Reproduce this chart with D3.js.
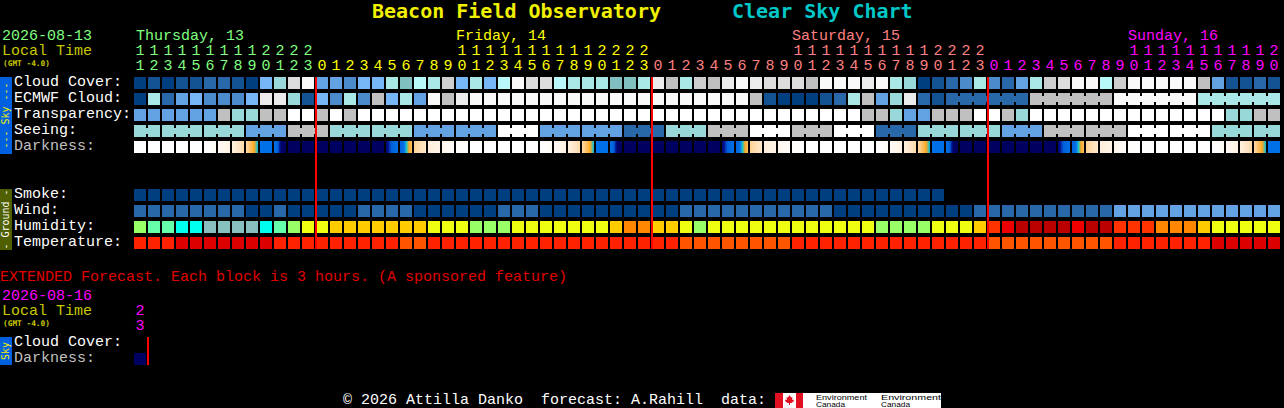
<!DOCTYPE html>
<html>
<head>
<meta charset="utf-8">
<title>Clear Sky Chart</title>
<script src="https://cdn.jsdelivr.net/npm/d3@7"></script>
<style>
	html, body { margin: 0; padding: 0; background: #000; overflow: hidden; }
	svg { display: block; }
	text { font-family: "Liberation Mono", monospace; font-size: 15px; white-space: pre; }
	.bold { font-family: "DejaVu Sans Mono", monospace; font-weight: bold; }
</style>
</head>
<body>
<svg id="chart" width="1284" height="408"></svg>
<script>
var siteName = "Beacon Field Observatory",
	chartName = "Clear Sky Chart";

var hourLabels = [11,12,13,14,15,16,17,18,19,20,21,22,23,
	0,1,2,3,4,5,6,7,8,9,10,11,12,13,14,15,16,17,18,19,20,21,22,23,
	0,1,2,3,4,5,6,7,8,9,10,11,12,13,14,15,16,17,18,19,20,21,22,23,
	0,1,2,3,4,5,6,7,8,9,10,11,12,13,14,15,16,17,18,19,20];

var dayNames = ["Thursday, 13", "Friday, 14", "Saturday, 15", "Sunday, 16"],
	dayLabelAt = [0, 23, 47, 71],
	dayStarts = [0, 13, 37, 61];

var skyRows = ["Cloud Cover:", "ECMWF Cloud:", "Transparency:", "Seeing:", "Darkness:"],
	groundRows = ["Smoke:", "Wind:", "Humidity:", "Temperature:"];

// levels index into skyColours
var cloudCover = [0,1,0,1,1,2,2,1,0,5,8,12,14,4,4,3,5,5,7,9,6,
	7,11,5,7,5,6,14,12,12,6,7,7,7,9,9,7,13,10,7,11,10,13,14,13,12,12,12,10,14,14,14,
	13,14,7,8,0,1,2,3,7,3,2,4,7,11,12,14,14,6,11,14,14,14,14,14,10,4,1,1,2,1];
var ecmwfCloud = [0,7,2,4,5,3,3,3,5,13,13,8,1,5,3,7,3,10,5,7,4,
	14,10,13,14,14,14,14,14,14,14,14,14,14,14,14,14,14,14,14,14,14,14,14,10,1,0,0,0,1,2,7,
	10,4,8,13,2,1,2,2,2,2,2,2,10,10,10,10,10,10,14,14,14,14,14,14,7,7,7,7,7,7];
var transparency = [4,4,4,4,4,4,10,8,8,10,10,15,15,10,15,10,15,15,15,15,15,
	15,15,15,15,15,15,15,15,15,15,15,15,15,15,15,15,15,15,15,15,15,15,15,15,15,15,15,15,15,15,15,
	10,10,8,4,4,10,10,10,15,15,10,8,15,15,15,15,15,15,15,15,15,15,15,15,15,15,8,8,10,10];
var seeing = [8,8,8,8,8,8,8,8,4,4,4,10,10,10,8,8,8,8,8,8,4,
	4,4,4,4,4,15,15,15,4,4,4,4,4,4,2,2,2,8,8,8,10,10,10,15,15,15,10,10,10,15,15,
	15,2,2,2,8,8,8,8,8,8,4,4,4,10,10,10,10,10,10,15,15,15,15,15,15,8,8,8,8,8];
var smoke = [0,0,0,0,0,0,0,0,0,0,0,0,0,0,0,0,0,0,0,0,0,
	0,0,0,0,0,0,0,0,0,0,0,0,0,0,0,0,0,0,0,0,0,0,0,0,0,0,0,0,0,0,0,
	0,0,0,0,0,0];
var wind = [2,2,2,2,2,2,2,2,0,0,2,0,0,0,0,0,2,2,2,2,0,
	0,0,0,0,0,2,2,2,0,0,0,0,0,0,0,0,0,0,2,2,2,2,2,2,2,2,2,2,2,0,0,
	0,0,0,0,0,0,0,0,2,2,2,2,2,2,2,2,2,2,4,4,4,4,4,4,4,4,4,4,4,4];
var humidity = [0,1,1,2,2,3,3,3,3,2,1,0,4,4,5,5,5,5,5,5,5,
	4,4,4,0,0,0,4,4,4,4,4,4,4,5,6,6,5,5,4,0,4,4,4,4,4,4,4,4,4,4,4,
	4,0,0,0,0,4,4,4,5,7,8,9,9,9,9,8,9,9,7,7,7,6,6,6,5,4,4,4,4,4];
var temperature = [1,1,1,0,0,0,0,0,0,0,1,1,1,1,1,1,1,1,1,2,2,
	1,1,1,1,1,1,1,1,1,1,1,1,1,1,1,1,1,1,2,2,2,2,2,2,2,2,1,1,1,1,1,
	1,1,1,1,1,1,1,1,1,2,2,2,2,2,2,2,2,2,1,1,1,1,1,1,1,0,0,0,0,0];

// darkness level at left and right edge of each block, 0 daylight .. 6 full dark
var darkLeft = [0,0,0,0,0,0,.3,.9,1.7,4,4,6,6,6,6,6,6,6,5.8,4.8,1.9,1,.5,.1,
	0,0,0,0,0,0,.3,.9,1.7,4,4,6,6,6,6,6,6,6,5.8,4.8,1.9,1,.5,.1,
	0,0,0,0,0,0,.3,.9,1.7,4,4,6,6,6,6,6,6,6,5.8,4.8,1.9,1,.5,.1,
	0,0,0,0,0,0,.3,.9,1.7,4];
var darkRight = [0,0,0,0,0,.25,.7,1.6,3.6,4,7,6,6,6,6,6,6,6,4,2.4,1.2,.6,.2,0,
	0,0,0,0,0,.25,.7,1.6,3.6,4,7,6,6,6,6,6,6,6,4,2.4,1.2,.6,.2,0,
	0,0,0,0,0,.25,.7,1.6,3.6,4,7,6,6,6,6,6,6,6,4,2.4,1.2,.6,.2,0,
	0,0,0,0,0,.25,.7,1.6,3.6,4];

// blocks drawn joined together [first, last]
var seeingBlocks = [[0,1],[2,4],[5,7],[8,10],[11,13],[14,16],[17,19],[20,22],[23,25],[26,28],
	[29,31],[32,34],[35,37],[38,40],[41,43],[44,46],[47,49],[50,52],[53,55],[56,58],[59,61],
	[62,64],[65,67],[68,70],[71,73],[74,76],[77,79],[80,81]];
var ecmwfBlocks = [[58,63],[64,69],[70,75],[76,81]];

var midnights = [13, 37, 61];

var extendedNote = "EXTENDED Forecast. Each block is 3 hours. (A sponsored feature)",
	extendedDate = "2026-08-16",
	extendedHours = [23],
	extendedRows = ["Cloud Cover:", "Darkness:"],
	extendedDark = [6];

var credit = "\u00a9 2026 Attilla Danko  forecast: A.Rahill  data:";

var skyColours = ["#003f7f","#135393","#2868a8","#4b8bcb","#62a2e2","#76b6f6","#b8f8f8","#aae8e8",
	"#98d8d8","#80c0c0","#c0c0c0","#cdcdcd","#dcdcdc","#ebebeb","#f9f9f9","#ffffff"];
var humidityColours = ["#99ff66","#66ffaa","#00ffee","#88c0c0","#eeff11","#ffcc00","#ff8800","#ff3300","#ee0000","#bb0000"];
var tempColours = ["#dd0000","#ff2200","#ff5500"];
var dayColours = ["#80ff80","#ffff00","#ff8080","#ff00ff"];

var svg = d3.select("#chart");

var x = d3.scaleBand()
	.domain(d3.range(hourLabels.length))
	.range([133, 1281])
	.paddingInner(1/7)
	.paddingOuter(1/14);
var cell = x.bandwidth();

var skyY = d3.scalePoint().domain(skyRows).range([77, 141]),
	groundY = d3.scalePoint().domain(groundRows).range([189, 237]),
	extendedY = d3.scalePoint().domain(extendedRows).range([337, 353]);

var skyScale = d3.scaleOrdinal().domain(d3.range(skyColours.length)).range(skyColours),
	humidityScale = d3.scaleOrdinal().domain(d3.range(humidityColours.length)).range(humidityColours),
	tempScale = d3.scaleOrdinal().domain(d3.range(tempColours.length)).range(tempColours);

var darkScale = d3.scaleLinear()
	.domain([0, 1, 2, 3, 3.5, 4, 5, 5.5, 6])
	.range(["#ffffff","#ffeeda","#ffcf90","#ffa820","#20c0c8","#0070e8","#0060d8","#001090","#000060"])
	.clamp(true);

function dayOf(i){
	return d3.bisectRight(dayStarts, i) - 1;
}

function label(g, txt, px, py, fill, cls){
	return g.append("text")
		.attr("x", px)
		.attr("y", py)
		.attr("fill", fill)
		.attr("class", cls || null)
		.text(txt);
}

function drawRow(g, values, y, colour, blocks){
	var row = g.append("g").attr("shape-rendering", "crispEdges");
	row.selectAll("rect.block")
		.data(values)
		.enter()
		.append("rect")
			.attr("class", "block")
			.attr("x", function(d, i) {return x(i);})
			.attr("y", y)
			.attr("width", cell)
			.attr("height", cell)
			.attr("fill", function(d) {return colour(d);});
	if(blocks === undefined)
		return;
	//little bridges between the hours of a block
	var links = [];
	blocks.forEach(function(b){
		d3.range(b[0], b[1]).forEach(function(i) {links.push(i);});
	});
	row.selectAll("rect.link")
		.data(links)
		.enter()
		.append("rect")
			.attr("class", "link")
			.attr("x", function(i) {return x(i) + cell;})
			.attr("y", y + 3)
			.attr("width", x.step() - cell)
			.attr("height", cell - 6)
			.attr("fill", function(i) {return colour(values[i]);});
}

function drawDarkRow(g, left, right, y){
	var slices = [];
	left.forEach(function(l, i){
		d3.range(cell).forEach(function(k){
			slices.push({i: i, k: k, level: l + (right[i] - l) * (k + 0.5) / cell});
		});
	});
	g.append("g").attr("shape-rendering", "crispEdges")
		.selectAll("rect")
		.data(slices)
		.enter()
		.append("rect")
			.attr("x", function(d) {return x(d.i) + d.k;})
			.attr("y", y)
			.attr("width", 1)
			.attr("height", cell)
			.attr("fill", function(d) {return darkScale(d.level);});
}

function sideBar(g, y, h, fill, txt, txtFill){
	g.append("rect")
		.attr("x", 0)
		.attr("y", y)
		.attr("width", 12)
		.attr("height", h)
		.attr("fill", fill);
	g.append("text")
		.attr("transform", "translate(9," + (y + h / 2) + ") rotate(-90)")
		.attr("text-anchor", "middle")
		.attr("fill", txtFill)
		.style("font-family", "'DejaVu Sans Mono', monospace")
		.style("font-size", "10px")
		.text(txt);
}

function hourRows(g, hours, fillFor, tensY, unitsY){
	var cols = g.selectAll("g.hour")
		.data(hours)
		.enter()
		.append("g")
			.attr("class", "hour")
			.attr("transform", function(d, i) {return "translate(" + (x(i) + cell / 2) + ",0)";})
			.attr("fill", fillFor)
			.attr("text-anchor", "middle");
	cols.filter(function(d) {return d >= 10;})
		.append("text")
			.attr("y", tensY)
			.text(function(d) {return Math.floor(d / 10);});
	cols.append("text")
		.attr("y", unitsY)
		.text(function(d) {return d % 10;});
}

// title
var heading = svg.append("g");
label(heading, siteName, 372, 18, "#f0f000", "bold").style("font-size", "20px");
label(heading, chartName, 732, 18, "#00c8c8", "bold").style("font-size", "20px");

// dates and days
label(heading, "2026-08-13", 2, 40, dayColours[0]);
label(heading, "Local Time", 2, 55, "#c8c800");
label(heading, "(GMT -4.0)", 3, 66, "#c8c800", "bold").style("font-size", "7.8px");
dayNames.forEach(function(name, j){
	label(heading, name, x(dayLabelAt[j]) + (j == 0 ? 2 : 0), 40, dayColours[j]);
});
hourRows(svg.append("g"), hourLabels, function(d, i) {return dayColours[dayOf(i)];}, 55, 70);

// sky
var sky = svg.append("g");
sideBar(sky, 77, 77, "#0060e0", "--- Sky ---", "#f0f000");
skyRows.forEach(function(name){
	label(sky, name, 14, skyY(name) + 8.5, name == "Darkness:" ? "#c0c0c0" : "#ffffff");
});
drawRow(sky, cloudCover, skyY("Cloud Cover:"), skyScale);
drawRow(sky, ecmwfCloud, skyY("ECMWF Cloud:"), skyScale, ecmwfBlocks);
drawRow(sky, transparency, skyY("Transparency:"), skyScale);
drawRow(sky, seeing, skyY("Seeing:"), skyScale, seeingBlocks);
drawDarkRow(sky, darkLeft, darkRight, skyY("Darkness:"));

// ground
var ground = svg.append("g");
sideBar(ground, 189, 61, "#506000", "- Ground -", "#ffffff");
groundRows.forEach(function(name){
	label(ground, name, 14, groundY(name) + 8.5, "#ffffff");
});
drawRow(ground, smoke, groundY("Smoke:"), skyScale);
drawRow(ground, wind, groundY("Wind:"), skyScale);
drawRow(ground, humidity, groundY("Humidity:"), humidityScale);
drawRow(ground, temperature, groundY("Temperature:"), tempScale);

// midnight lines
svg.append("g").attr("shape-rendering", "crispEdges")
	.selectAll("rect")
	.data(midnights)
	.enter()
	.append("rect")
		.attr("x", function(i) {return x(i) - 1;})
		.attr("y", 77)
		.attr("width", 2)
		.attr("height", 172)
		.attr("fill", "#ff0000");

// extended forecast
var ext = svg.append("g");
label(ext, extendedNote, 0, 281, "#e00000");
label(ext, extendedDate, 2, 300, dayColours[3]);
label(ext, "Local Time", 2, 315, "#c8c800");
label(ext, "(GMT -4.0)", 3, 326, "#c8c800", "bold").style("font-size", "7.8px");
hourRows(ext.append("g"), extendedHours, function() {return dayColours[3];}, 315, 330);
sideBar(ext, 337, 28, "#0060e0", "Sky", "#f0f000");
extendedRows.forEach(function(name){
	label(ext, name, 14, extendedY(name) + 8.5, name == "Darkness:" ? "#c0c0c0" : "#ffffff");
});
drawDarkRow(ext, extendedDark, extendedDark, extendedY("Darkness:"));
ext.append("rect")
	.attr("x", x(1) - 1)
	.attr("y", 337)
	.attr("width", 2)
	.attr("height", 28)
	.attr("fill", "#ff0000");

// footer
var foot = svg.append("g");
label(foot, credit, 343, 404, "#ffffff");
var logo = foot.append("g");
logo.append("rect").attr("x", 775).attr("y", 393).attr("width", 166).attr("height", 15).attr("fill", "#ffffff");
logo.append("rect").attr("x", 775).attr("y", 393).attr("width", 8).attr("height", 15).attr("fill", "#e01020");
logo.append("rect").attr("x", 796).attr("y", 393).attr("width", 7).attr("height", 15).attr("fill", "#e01020");
logo.append("path")
	.attr("d", "M789.5 395l1.5 2.5 1.5-.5-.5 3 1.5-.5 .5 1.5-2.5 2h-1.5v2h-1v-2h-1.5l-2.5-2 .5-1.5 1.5 .5-.5-3 1.5 .5z")
	.attr("fill", "#e01020");
[["Environment", 816, 400, 51], ["Canada", 816, 407, 29], ["Environment", 881, 400, 60], ["Canada", 881, 407, 29]]
	.forEach(function(t){
		logo.append("text")
			.attr("x", t[1])
			.attr("y", t[2])
			.attr("textLength", t[3])
			.attr("lengthAdjust", "spacingAndGlyphs")
			.attr("fill", "#000000")
			.style("font-family", "'Liberation Sans', sans-serif")
			.style("font-size", "8px")
			.text(t[0]);
	});
</script>
</body>
</html>
